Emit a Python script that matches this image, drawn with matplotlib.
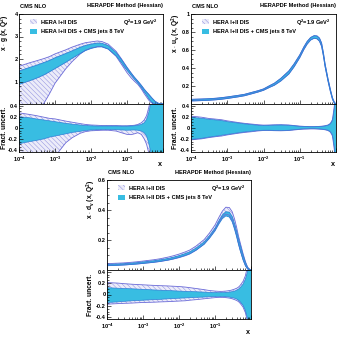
import numpy as np
import matplotlib
matplotlib.use('Agg')
import matplotlib.pyplot as plt
from matplotlib.patches import Patch
from matplotlib.ticker import FixedLocator, LogLocator, NullFormatter, MultipleLocator

plt.rcParams['font.family'] = ['Liberation Sans', 'DejaVu Sans']
plt.rcParams['font.weight'] = 'bold'
plt.rcParams['mathtext.fontset'] = 'custom'
plt.rcParams['mathtext.rm'] = 'Liberation Sans:bold'
plt.rcParams['mathtext.bf'] = 'Liberation Sans:bold'
plt.rcParams['mathtext.it'] = 'Liberation Sans:bold'
plt.rcParams['mathtext.sf'] = 'Liberation Sans:bold'
plt.rcParams['hatch.linewidth'] = 0.35

# ---------------- data ----------------
x_nodes = [1e-4, 2e-4, 3e-4, 5e-4, 7e-4, 1e-3, 2e-3, 3e-3, 5e-3, 7e-3, 1e-2, 1.5e-2,
           2e-2, 3e-2, 5e-2, 7e-2, 0.1, 0.13, 0.16, 0.2, 0.25, 0.3, 0.35, 0.4, 0.45,
           0.5, 0.6, 0.7, 0.8, 0.9, 1.0]

# gluon
g_cms = [1.22, 1.38, 1.48, 1.62, 1.72, 1.85, 2.08, 2.22, 2.40, 2.50, 2.57, 2.63, 2.62, 2.52,
         2.22, 1.92, 1.57, 1.33, 1.15, 0.97, 0.78, 0.60, 0.46, 0.34, 0.24, 0.16, 0.065,
         0.02, 0.004, 0.0005, 0.0]
g_cms_up = [.20, .18, .16, .14, .125, .11, .08, .065, .05, .04, .035, .03, .03, .03, .03, .03,
            .03, .032, .035, .045, .06, .09, .15, .27, .42, .6, .9, 1.5, 3, 3, 3]
g_cms_dn = [.29, .25, .23, .20, .17, .15, .11, .085, .065, .05, .04, .035, .03, .03, .035, .04,
            .045, .042, .04, .045, .06, .09, .15, .27, .42, .6, .9, 1.5, 3, 3, 3]
g_hera = [1.32, 1.48, 1.57, 1.70, 1.80, 1.92, 2.15, 2.30, 2.47, 2.57, 2.63, 2.68, 2.67, 2.56,
          2.25, 1.94, 1.58, 1.33, 1.14, 0.96, 0.76, 0.58, 0.44, 0.32, 0.22, 0.15, 0.06,
          0.018, 0.003, 0.0004, 0.0]
g_hera_up = [.27, .24, .22, .19, .17, .16, .12, .10, .075, .06, .05, .045, .04, .04, .04, .035,
             .035, .04, .045, .06, .09, .14, .22, .36, .5, .65, 1, 2, 3, 3, 3]
g_hera_dn = [2.0, 1.5, 1.2, .97, .75, .52, .27, .18, .10, .07, .055, .05, .045, .045, .06, .09,
             .12, .125, .11, .09, .12, .2, .3, .45, .6, .75, 1, 2, 3, 3, 3]

# u valence
u_cms = [.043, .047, .050, .056, .062, .070, .088, .100, .124, .140, .160, .196, .220, .270,
         .350, .430, .530, .620, .680, .725, .745, .740, .715, .660, .550, .430, .270, .150,
         .060, .015, 0.0]
u_cms_up = [.19, .17, .155, .14, .13, .11, .085, .07, .055, .045, .04, .045, .048, .05, .045,
            .035, .025, .02, .02, .018, .018, .02, .022, .025, .028, .032, .045, .07, .13, .35, 1.5]
u_cms_dn = [.21, .19, .17, .15, .135, .12, .09, .075, .06, .05, .045, .045, .048, .05, .045,
            .035, .025, .02, .02, .018, .018, .02, .022, .025, .028, .032, .045, .07, .13, .35, 1.5]
u_hera = [.043, .047, .050, .056, .062, .070, .088, .100, .124, .140, .160, .196, .220, .270,
          .350, .430, .530, .620, .680, .725, .745, .740, .715, .660, .550, .430, .270, .150,
          .060, .015, 0.0]
u_hera_up = [.21, .19, .17, .155, .145, .125, .095, .08, .065, .055, .048, .05, .053, .055, .05,
             .04, .03, .025, .022, .02, .02, .022, .025, .028, .032, .037, .05, .08, .15, .4, 1.5]
u_hera_dn = [.22, .20, .18, .16, .15, .13, .10, .085, .07, .058, .05, .05, .053, .055, .05,
             .04, .03, .025, .022, .02, .02, .022, .025, .028, .032, .037, .05, .08, .15, .4, 1.5]

# d valence
d_cms = [.033, .036, .038, .042, .045, .049, .057, .063, .072, .080, .090, .104, .115, .140,
         .180, .220, .270, .320, .355, .375, .370, .340, .290, .240, .190, .150, .085, .040,
         .013, .002, 0.0]
d_cms_up = [.12, .11, .105, .10, .095, .09, .08, .075, .07, .065, .06, .055, .052, .048, .042,
            .037, .033, .032, .033, .036, .042, .05, .06, .075, .095, .12, .18, .27, .4, .7, 2]
d_cms_dn = [.14, .13, .12, .11, .105, .10, .09, .085, .075, .07, .065, .06, .055, .05, .045,
            .04, .035, .034, .035, .038, .045, .055, .065, .08, .10, .125, .19, .28, .42, .7, 2]
d_hera = [.035, .038, .040, .044, .047, .051, .059, .065, .075, .083, .093, .107, .119, .145,
          .187, .230, .283, .335, .372, .395, .390, .360, .310, .255, .200, .158, .090, .042,
          .014, .002, 0.0]
d_hera_up = [.21, .20, .19, .18, .175, .17, .16, .155, .15, .145, .14, .13, .12, .105, .085,
             .07, .06, .055, .055, .06, .068, .08, .095, .11, .13, .16, .23, .33, .5, .8, 2]
d_hera_dn = [.17, .16, .155, .15, .145, .14, .135, .13, .125, .12, .115, .11, .10, .09, .075,
             .065, .055, .05, .05, .055, .063, .075, .09, .105, .125, .155, .22, .32, .48, .8, 2]

x_tick_vals = [1e-4, 1e-3, 1e-2, 1e-1]
x_tick_labels = [r'$10^{-4}$', r'$10^{-3}$', r'$10^{-2}$', r'$10^{-1}$']
ratio_ticks = [-0.4, -0.2, 0.0, 0.2, 0.4]
ratio_labels = ['-0.4', '-0.2', '0', '0.2', '0.4']

legend_labels = ['HERA I+II DIS', 'HERA I+II DIS + CMS jets 8 TeV']
header_left = 'CMS NLO'
header_right = 'HERAPDF Method (Hessian)'
scale_text = r'Q$^{2}$=1.9 GeV$^{2}$'
ratio_ylabel = 'Fract. uncert.'

panels = [
    dict(cms=g_cms, cu=g_cms_up, cd=g_cms_dn, hera=g_hera, hu=g_hera_up, hd=g_hera_dn,
         ylabel=r'x $\cdot$ g (x, Q$^{2}$)', ylim=(0, 4), yticks=[1, 2, 3, 4],
         ylabels=['1', '2', '3', '4'], minor=0.2),
    dict(cms=u_cms, cu=u_cms_up, cd=u_cms_dn, hera=u_hera, hu=u_hera_up, hd=u_hera_dn,
         ylabel=r'x $\cdot$ u$_{\mathregular{v}}$ (x, Q$^{2}$)', ylim=(0, 1.0),
         yticks=[0.2, 0.4, 0.6, 0.8, 1.0], ylabels=['0.2', '0.4', '0.6', '0.8', '1'], minor=0.05),
    dict(cms=d_cms, cu=d_cms_up, cd=d_cms_dn, hera=d_hera, hu=d_hera_up, hd=d_hera_dn,
         ylabel=r'x $\cdot$ d$_{\mathregular{v}}$ (x, Q$^{2}$)', ylim=(0, 0.6),
         yticks=[0.2, 0.4, 0.6], ylabels=['0.2', '0.4', '0.6'], minor=0.05),
]

# ---------------- layout ----------------
W, H = 340, 338
fig = plt.figure(figsize=(W / 100, H / 100), dpi=100)

# (left_px, right_px, top_px, mid_px, bottom_px, ylabel_x_px)
boxes = [(19, 163, 14, 104, 151.5, 4.8), (191, 336, 14, 104, 151.5, 175.5),
         (107, 251, 180, 270, 319, 90.5)]

CYAN = '#38bde2'
CYAN_EDGE = '#2f7fd6'
LAV = '#ececf9'
HATCH = '#8e8ee0'
HERA_EDGE = '#6b6bd8'

FS = 4.1


def fx(px):
    return px / W


def fy(py):
    return 1 - py / H


def style_axis(ax):
    ax.set_xscale('log')
    ax.set_xlim(1e-4, 1)
    for s in ax.spines.values():
        s.set_linewidth(0.6)
    ax.tick_params(which='both', direction='in', top=False, right=False, width=0.45,
                   labelsize=FS, pad=0.8)
    ax.tick_params(which='major', length=3.0)
    ax.tick_params(which='minor', length=1.6)
    ax.xaxis.set_major_locator(FixedLocator(x_tick_vals + [1.0]))
    ax.xaxis.set_minor_locator(LogLocator(base=10, subs=np.arange(2, 10), numticks=20))
    ax.xaxis.set_minor_formatter(NullFormatter())


xs = np.array(x_nodes)
for p, (l, r, t, m, b, ylx) in zip(panels, boxes):
    axm = fig.add_axes([fx(l), fy(m), fx(r) - fx(l), fy(t) - fy(m)])
    axr = fig.add_axes([fx(l), fy(b), fx(r) - fx(l), fy(m) - fy(b)])
    cms = np.array(p['cms']); cu = np.array(p['cu']); cd = np.array(p['cd'])
    hera = np.array(p['hera']); hu = np.array(p['hu']); hd = np.array(p['hd'])

    # main panel
    h_lo, h_hi = hera * (1 - hd), hera * (1 + hu)
    c_lo, c_hi = cms * (1 - cd), cms * (1 + cu)
    axm.fill_between(xs, h_lo, h_hi, facecolor=LAV, edgecolor=HATCH, hatch='\\\\\\\\\\\\\\',
                     linewidth=0)
    axm.plot(xs, h_lo, color=HERA_EDGE, lw=0.6)
    axm.plot(xs, h_hi, color=HERA_EDGE, lw=0.6)
    axm.fill_between(xs, c_lo, c_hi, facecolor=CYAN, edgecolor='none', linewidth=0)
    axm.plot(xs, c_lo, color=CYAN_EDGE, lw=0.6)
    axm.plot(xs, c_hi, color=CYAN_EDGE, lw=0.6)
    style_axis(axm)
    axm.set_ylim(*p['ylim'])
    axm.set_yticks(p['yticks'])
    axm.set_yticklabels(p['ylabels'])
    axm.yaxis.set_minor_locator(MultipleLocator(p['minor']))
    axm.set_xticklabels([])

    # ratio panel
    axr.fill_between(xs, -hd, hu, facecolor=LAV, edgecolor=HATCH, hatch='\\\\\\\\\\\\\\',
                     linewidth=0)
    axr.plot(xs, -hd, color=HERA_EDGE, lw=0.6)
    axr.plot(xs, hu, color=HERA_EDGE, lw=0.6)
    axr.fill_between(xs, -cd, cu, facecolor=CYAN, edgecolor='none', linewidth=0)
    axr.plot(xs, -cd, color=CYAN_EDGE, lw=0.5)
    axr.plot(xs, cu, color=CYAN_EDGE, lw=0.5)
    style_axis(axr)
    axr.set_ylim(-0.43, 0.43)
    axr.set_yticks(ratio_ticks)
    axr.set_yticklabels(ratio_labels)
    axr.yaxis.set_minor_locator(MultipleLocator(0.05))
    axr.set_xticklabels(x_tick_labels + [''])
    axr.tick_params(axis='x', pad=2.0)

    # legend
    handles = [Patch(facecolor=LAV, edgecolor=HATCH, hatch='\\\\\\\\\\\\\\', linewidth=0),
               Patch(facecolor=CYAN, edgecolor='none')]
    axm.legend(handles, legend_labels, loc='upper left', bbox_to_anchor=(0.075, 0.94),
               frameon=False, fontsize=FS, handlelength=1.3, handleheight=0.9,
               handletextpad=0.7, labelspacing=0.75, borderaxespad=0, borderpad=0)
    axm.text(0.965, 0.90, scale_text, transform=axm.transAxes, ha='right', va='center',
             fontsize=FS, fontweight='bold')

    # texts
    fig.text(fx(l + 1), fy(t - 8), header_left, ha='left', va='center', fontsize=FS,
             fontweight='bold')
    fig.text(fx(r), fy(t - 8), header_right, ha='right', va='center', fontsize=FS,
             fontweight='bold')
    fig.text(fx(ylx + 0.5), fy(t), p['ylabel'], rotation=90, ha='center', va='top',
             fontsize=4.8, fontweight='bold')
    fig.text(fx(ylx), fy((m + b) / 2), ratio_ylabel, rotation=90, ha='center',
             va='center', fontsize=4.8, fontweight='bold')
    fig.text(fx(r - 3), fy(b + 13.5), 'x', ha='center', va='center', fontsize=5.2,
             fontweight='bold')

fig.savefig('out.png', dpi=100)
